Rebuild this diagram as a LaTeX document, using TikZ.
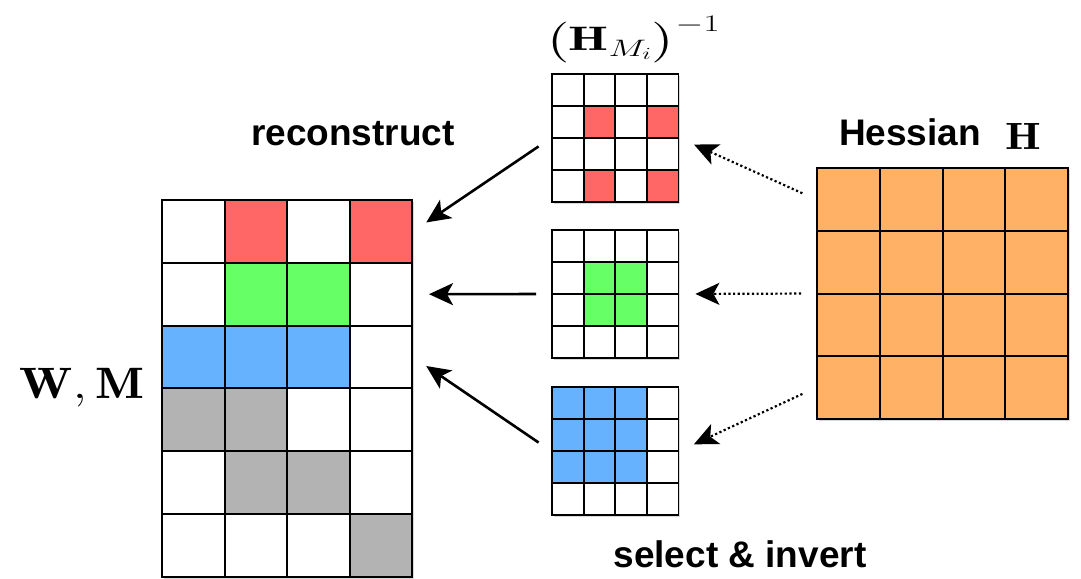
\RequirePackage{fix-cm}
\documentclass[tikz,border=0pt]{standalone}
\usepackage{amsmath,amssymb}
\usepackage{fontspec}
\usepackage{tikz}
\usetikzlibrary{arrows.meta,positioning,shadows}
\newfontfamily\lblfont{Liberation Sans}
\definecolor{cR}{HTML}{FF6666}
\definecolor{cG}{HTML}{66FF66}
\definecolor{cB}{HTML}{66B2FF}
\definecolor{cK}{HTML}{B3B3B3}
\definecolor{cO}{HTML}{FFB266}
\colorlet{cw}{white}
\tikzset{
  frame/.style={draw=black,line width=2pt,fill=white,inner sep=0pt,
    drop shadow={shadow xshift=2pt,shadow yshift=-2pt,opacity=0.3}},
  bigcell/.style={draw=black,line width=2pt,inner sep=0pt,minimum width=62.5pt,minimum height=62.8pt},
  smallcell/.style={draw=black,line width=1.8pt,inner sep=0pt,minimum width=31.6pt,minimum height=32pt},
  hesscell/.style={draw=black,line width=2pt,inner sep=0pt,fill=cO,minimum size=62.75pt},
  recon/.style={line width=2.6pt,-{Stealth[length=24pt,width=22pt,inset=6pt]},shorten <=15pt,shorten >=16pt},
  select/.style={line width=2.2pt,dash pattern=on 2.2pt off 2.5pt,
    -{Stealth[length=24pt,width=22pt,inset=6pt]},shorten <=15pt,shorten >=16pt},
  lbl/.style={font=\lblfont\bfseries\fontsize{37}{40}\selectfont,inner sep=0pt},
  mathlbl/.style={inner sep=0pt,font=\fontsize{#1}{#1}\selectfont},
}

\begin{document}
\begin{tikzpicture}[x=1pt,y=-1pt]
    \useasboundingbox (0,0) rectangle (1081,578);
    % ------------- left: weights W with mask M -------------
    \node[frame,minimum width=250pt,minimum height=377pt] (W) at (287,388.5) {};
    \foreach \row [count=\r] in {{w,R,w,R},{w,G,G,w},{B,B,B,w},{K,K,w,w},{w,K,K,w},{w,w,w,K}}{
      \foreach \col [count=\c] in \row {
        \node[bigcell,fill=c\col] (W-\r-\c) at ({162+62.5*(\c-0.5)},{200+62.8*(\r-0.5)}) {};
      }
    }
    \node[mathlbl=44,anchor=base] (WM) at (82,398) {\scalebox{1.17}[1]{$\mathbf{W},\mathbf{M}$}};
    \node[lbl,anchor=base] (rec) at (353,145) {reconstruct};
    % ------------- middle: inverted sub-Hessians -------------
    \foreach \k/\ytop/\pattern in {1/74/{{w,w,w,w},{w,R,w,R},{w,w,w,w},{w,R,w,R}},
                                   2/230/{{w,w,w,w},{w,G,G,w},{w,G,G,w},{w,w,w,w}},
                                   3/387/{{B,B,B,w},{B,B,B,w},{B,B,B,w},{w,w,w,w}}}{
      \node[frame,minimum width=126.4pt,minimum height=128pt] (Hinv\k) at (615.2,\ytop+64) {};
      \foreach \row [count=\r] in \pattern {
        \foreach \col [count=\c] in \row {
          \node[smallcell,fill=c\col] (Hinv\k-\r-\c) at ({552+31.6*(\c-0.5)},{\ytop+32*(\r-0.5)}) {};
        }
      }
    }
    \node[mathlbl=34,anchor=base west] (HMi) at (545,51) {\scalebox{1.5}[1]{$\bigl(\mathbf{H}_{M_i}\bigr)^{-1}$}};
    \node[lbl,anchor=base] (sel) at (740,567) {select \& invert};
    % ------------- right: full Hessian -------------
    \node[frame,minimum size=251pt] (Hess) at (942.5,293.5) {};
    \foreach \r in {1,...,4}{
      \foreach \c in {1,...,4}{
        \node[hesscell] (H-\r-\c) at ({817+62.75*(\c-0.5)},{168+62.75*(\r-0.5)}) {};
      }
    }
    \node[lbl,anchor=base] (hes) at (910,145) {Hessian};
    \node[mathlbl=38,anchor=base west] (Hsym) at (1005,149) {\scalebox{1.2}[1]{$\mathbf{H}$}};
    % ------------- arrows -------------
    \draw[recon] (Hinv1.west) -- (W-1-4.east);
    \draw[recon] (Hinv2.west) -- (W-2-4.east);
    \draw[recon] (Hinv3.west) -- (W-3-4.east);
    \draw[select] (H-1-1.west) -- (Hinv1.east);
    \draw[select] (Hess.west) -- (Hinv2.east);
    \draw[select] (H-4-1.west) -- (Hinv3.east);
  \end{tikzpicture}
\end{document}
